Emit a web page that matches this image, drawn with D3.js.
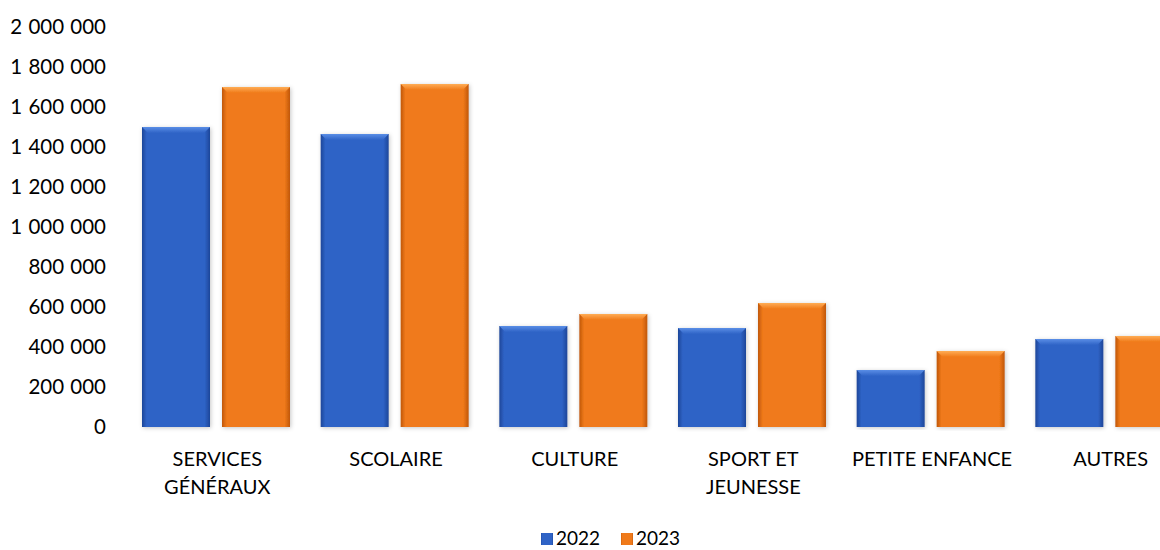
<!DOCTYPE html>
<html>
<head>
<meta charset="utf-8">
<script src="https://cdn.jsdelivr.net/npm/d3@7"></script>
<style>
  body { margin: 0; background: #fff; }
  svg { display: block; font-family: Lato, 'Open Sans', sans-serif; }
</style>
</head>
<body>
<script>
const categories = ['SERVICES GÉNÉRAUX', 'SCOLAIRE', 'CULTURE', 'SPORT ET JEUNESSE', 'PETITE ENFANCE', 'AUTRES']
const categoryLines = [['SERVICES', 'GÉNÉRAUX'], ['SCOLAIRE'], ['CULTURE'], ['SPORT ET', 'JEUNESSE'], ['PETITE ENFANCE'], ['AUTRES']]
const series = ['2022', '2023']
const values2022 = [1500000, 1465000, 505000, 495000, 285000, 440000]
const values2023 = [1700000, 1715000, 565000, 620000, 380000, 455000]
const yTicks = [0, 200000, 400000, 600000, 800000, 1000000, 1200000, 1400000, 1600000, 1800000, 2000000]

const width = 1160, height = 550
const colors = { '2022': ['#5a8ee6', '#2f63c6', '#1d4699'], '2023': ['#ffad55', '#f07a1a', '#c0570a'] }

const svg = d3.select('body').append('svg')
    .attr('width', width)
    .attr('height', height)
    .attr('viewBox', [0, 0, width, height])

const defs = svg.append('defs')
for (const s of series) {
    const [light, mid, dark] = colors[s]
    const g = defs.append('linearGradient').attr('id', 'grad' + s)
        .attr('x1', 0).attr('x2', 1).attr('y1', 0).attr('y2', 0)
    g.append('stop').attr('offset', 0).attr('stop-color', dark)
    g.append('stop').attr('offset', 0.07).attr('stop-color', mid)
    g.append('stop').attr('offset', 0.92).attr('stop-color', mid)
    g.append('stop').attr('offset', 1).attr('stop-color', dark)
    const v = defs.append('linearGradient').attr('id', 'vgrad' + s)
        .attr('x1', 0).attr('x2', 0).attr('y1', 0).attr('y2', 1)
    v.append('stop').attr('offset', 0).attr('stop-color', light)
    v.append('stop').attr('offset', 1).attr('stop-color', mid)
}
const shadow = defs.append('filter').attr('id', 'shadow')
    .attr('x', '-20%').attr('y', '-5%').attr('width', '140%').attr('height', '110%')
shadow.append('feDropShadow').attr('dx', 1).attr('dy', 1).attr('stdDeviation', 2)
    .attr('flood-color', '#000').attr('flood-opacity', 0.22)

const y = d3.scaleLinear().domain([0, 2000000]).range([427, 27])
const x = d3.scaleBand().domain(categories).range([128, 1200])
const xs = d3.scaleBand().domain(series).range([14, 162]).paddingInner(0.15)

const fmt = d => d3.format(',')(d).replace(/,/g, ' ')

// y axis labels
svg.append('g')
    .attr('font-size', 20.5)
    .attr('word-spacing', 1)
    .attr('fill', '#000')
  .selectAll('text')
  .data(yTicks)
  .join('text')
    .attr('x', 106)
    .attr('y', d => y(d))
    .attr('dy', '0.35em')
    .attr('text-anchor', 'end')
    .text(fmt)

const rows = categories.map((c, i) => ({ c, i, vals: [values2022[i], values2023[i]] }))

const bars = svg.append('g')
  .selectAll('g')
  .data(rows)
  .join('g')
    .attr('transform', d => `translate(${x(d.c)},0)`)
  .selectAll('g')
  .data(d => series.map((s, j) => ({ s, v: d.vals[j] })))
  .join('g')
    .attr('filter', 'url(#shadow)')

bars.append('rect')
    .attr('x', d => xs(d.s))
    .attr('y', d => y(d.v))
    .attr('width', xs.bandwidth())
    .attr('height', d => y(0) - y(d.v))
    .attr('fill', d => `url(#grad${d.s})`)

// top bevel
bars.append('path')
    .attr('d', d => {
        const x0 = xs(d.s), x1 = x0 + xs.bandwidth(), t = y(d.v)
        return `M${x0},${t}L${x1},${t}L${x1 - 6},${t + 6}L${x0 + 6},${t + 6}Z`
    })
    .attr('fill', d => `url(#vgrad${d.s})`)

// x labels
svg.append('g')
    .attr('font-size', 20)
    .attr('fill', '#000')
  .selectAll('text')
  .data(rows)
  .join('text')
    .attr('x', d => x(d.c) + x.bandwidth() / 2)
    .attr('y', 466)
    .attr('text-anchor', 'middle')
  .selectAll('tspan')
  .data(d => categoryLines[d.i])
  .join('tspan')
    .attr('x', function () { return this.parentNode.getAttribute('x') })
    .attr('dy', (d, i) => i === 0 ? 0 : 28)
    .text(d => d)

// legend
const legend = svg.append('g')
    .attr('font-size', 19)
  .selectAll('g')
  .data(series)
  .join('g')
    .attr('transform', (d, i) => `translate(${541 + i * 80},539)`)
legend.append('rect')
    .attr('x', 0).attr('y', -6).attr('width', 12).attr('height', 12)
    .attr('fill', d => `url(#grad${d})`)
legend.append('text')
    .attr('x', 15).attr('y', 6)
    .text(d => d)
</script>
</body>
</html>
